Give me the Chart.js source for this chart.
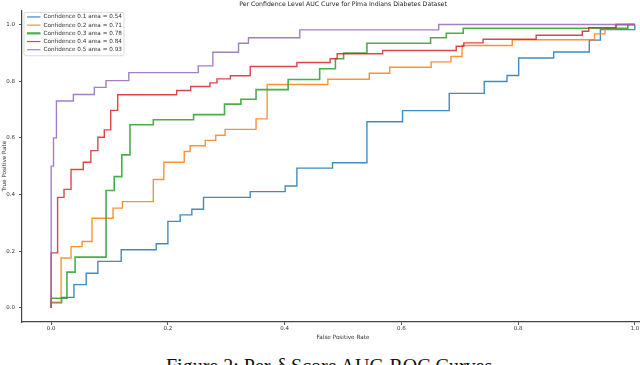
<!DOCTYPE html>
<html>
<head>
<meta charset="utf-8">
<script src="https://cdn.jsdelivr.net/npm/chart.js@4.4.0/dist/chart.umd.min.js"></script>
<style>
html, body { margin: 0; padding: 0; width: 640px; height: 365px; overflow: hidden; background: #fff; }
#wrap { position: absolute; left: 0; top: 0; width: 664px; height: 341px; }
#caption { position: absolute; left: 166px; top: 356px; font-family: "Liberation Serif", serif; font-size: 20px; line-height: 20px; white-space: nowrap; color: #111; }
</style>
</head>
<body>
<div id="wrap"><canvas id="roc" width="664" height="341"></canvas></div>
<div id="caption">Figure 2: Per-δ Score AUC-ROC Curves</div>
<script>
// ---------- values ----------
const confLevels = [0.1, 0.2, 0.3, 0.4, 0.5];
const aucValues = ['0.54', '0.71', '0.78', '0.84', '0.93'];
const axisTicks = [0, 0.2, 0.4, 0.6, 0.8, 1.0];

// confidence 0.1
const fpr1 = [0, 0, 0.018, 0.039, 0.060, 0.080, 0.120, 0.180, 0.200, 0.221, 0.241, 0.261, 0.341, 0.401, 0.421, 0.482, 0.541, 0.602, 0.682, 0.742, 0.781, 0.801, 0.861, 0.922, 0.941, 1.0];
const tpr1 = [0, 0.018, 0.037, 0.082, 0.122, 0.164, 0.205, 0.226, 0.305, 0.328, 0.348, 0.390, 0.410, 0.430, 0.493, 0.512, 0.657, 0.696, 0.757, 0.799, 0.820, 0.882, 0.903, 0.945, 0.982, 1.0];
// confidence 0.2
const fpr2 = [0, 0, 0.017, 0.034, 0.053, 0.070, 0.106, 0.122, 0.175, 0.193, 0.228, 0.238, 0.264, 0.282, 0.298, 0.351, 0.370, 0.474, 0.545, 0.580, 0.651, 0.685, 0.704, 0.790, 0.931, 0.949, 0.967, 1.0];
const tpr2 = [0, 0.020, 0.176, 0.216, 0.234, 0.316, 0.352, 0.375, 0.453, 0.514, 0.552, 0.572, 0.591, 0.609, 0.630, 0.667, 0.788, 0.807, 0.828, 0.849, 0.868, 0.887, 0.926, 0.946, 0.967, 0.985, 1.0, 1.0];
// confidence 0.3
const fpr3 = [0, 0, 0.027, 0.041, 0.094, 0.108, 0.121, 0.135, 0.175, 0.244, 0.297, 0.325, 0.351, 0.406, 0.460, 0.487, 0.501, 0.541, 0.650, 0.677, 0.706, 0.988, 1.0];
const tpr3 = [0, 0.034, 0.126, 0.179, 0.414, 0.463, 0.540, 0.646, 0.664, 0.682, 0.719, 0.736, 0.770, 0.806, 0.844, 0.879, 0.899, 0.934, 0.953, 0.969, 0.987, 1.0, 1.0];
// confidence 0.4
const fpr4 = [0, 0, 0.011, 0.022, 0.034, 0.055, 0.068, 0.080, 0.091, 0.102, 0.114, 0.215, 0.239, 0.272, 0.284, 0.307, 0.341, 0.421, 0.478, 0.490, 0.568, 0.694, 0.707, 0.740, 0.831, 0.910, 0.921, 0.968, 1.0];
const tpr4 = [0, 0.194, 0.390, 0.418, 0.488, 0.514, 0.555, 0.602, 0.628, 0.697, 0.752, 0.767, 0.781, 0.794, 0.808, 0.819, 0.852, 0.866, 0.879, 0.897, 0.908, 0.923, 0.935, 0.948, 0.962, 0.976, 0.989, 1.0, 1.0];
// confidence 0.5
const fpr5 = [0, 0, 0.004, 0.009, 0.038, 0.074, 0.094, 0.133, 0.252, 0.277, 0.321, 0.338, 0.426, 0.664, 1.0];
const tpr5 = [0, 0.500, 0.600, 0.730, 0.753, 0.778, 0.802, 0.830, 0.854, 0.902, 0.934, 0.953, 0.981, 1.0, 1.0];

const fprList = [fpr1, fpr2, fpr3, fpr4, fpr5];
const tprList = [tpr1, tpr2, tpr3, tpr4, tpr5];
const lineColors = ['31,119,180', '255,127,14', '44,160,44', '214,39,40', '148,103,189'];

const tickFont = { family: 'DejaVu Sans', size: 5.5 };
const labelFont = { family: 'DejaVu Sans', size: 5.7 };

const datasets = confLevels.map((c, i) => ({
    label: 'Confidence ' + c + ' area = ' + aucValues[i],
    data: fprList[i].map((x, j) => ({ x: x, y: tprList[i][j] })),
    borderColor: 'rgba(' + lineColors[i] + ',0.85)',
    backgroundColor: 'rgba(' + lineColors[i] + ',0.85)',
    borderWidth: i === 2 ? 1.6 : 1.4,
    showLine: true,
    stepped: 'before',
    pointRadius: 0,
    fill: false,
    order: 5 - i
}));

// matplotlib style legend box in the upper left corner
const boxLegend = {
    id: 'boxLegend',
    afterDraw(chart) {
        const ctx = chart.ctx;
        const area = chart.chartArea;
        const x0 = area.left + 2, y0 = area.top + 2;
        ctx.save();
        ctx.beginPath();
        ctx.roundRect(x0, y0, 100, 43.4, 2);
        ctx.fillStyle = 'rgba(255,255,255,0.85)';
        ctx.fill();
        ctx.strokeStyle = '#d0d0d0';
        ctx.lineWidth = 0.8;
        ctx.stroke();
        ctx.font = '5.7px "DejaVu Sans"';
        ctx.textBaseline = 'middle';
        chart.data.datasets.forEach((ds, i) => {
            const y = y0 + 4.6 + i * 8.2;
            ctx.beginPath();
            ctx.moveTo(x0 + 3, y);
            ctx.lineTo(x0 + 16.5, y);
            ctx.strokeStyle = ds.borderColor;
            ctx.lineWidth = i === 2 ? 2.2 : 1.2;
            ctx.stroke();
            ctx.fillStyle = '#333';
            ctx.fillText(ds.label, x0 + 19.5, y);
        });
        ctx.restore();
    }
};

function axis(title, fitFn, titlePad) {
    return {
        type: 'linear',
        min: -0.05,
        max: 1.05,
        afterBuildTicks: s => { s.ticks = axisTicks.map(v => ({ value: v })); },
        afterFit: fitFn,
        ticks: {
            font: tickFont,
            color: '#333',
            padding: 0,
            callback: v => v.toFixed(1)
        },
        grid: {
            display: true,
            drawOnChartArea: false,
            drawTicks: true,
            tickLength: 3,
            color: '#444',
            tickWidth: 0.9
        },
        border: { display: true, color: '#444', width: 1.2 },
        title: { display: true, text: title, font: labelFont, color: '#333', padding: titlePad }
    };
}

const xAxis = axis('False Positive Rate', s => { s.height = 19; }, { top: 0, bottom: 0 });
const yAxis = axis('True Positive Rate', s => { s.width = 22; }, { top: 1.5, bottom: 0 });
yAxis.ticks.padding = 4;

new Chart(document.getElementById('roc').getContext('2d'), {
    type: 'scatter',
    data: { datasets: datasets },
    options: {
        responsive: false,
        animation: false,
        devicePixelRatio: 1,
        layout: { padding: 0 },
        scales: { x: xAxis, y: yAxis },
        plugins: {
            legend: { display: false },
            tooltip: { enabled: false },
            title: {
                display: true,
                fullSize: false,
                text: 'Per Confidence Level AUC Curve for Pima Indians Diabetes Dataset',
                font: { family: 'DejaVu Sans', size: 6.2, weight: 'normal' },
                color: '#222',
                padding: { top: 0.3, bottom: 2.6 }
            }
        }
    },
    plugins: [boxLegend]
});
</script>
</body>
</html>
